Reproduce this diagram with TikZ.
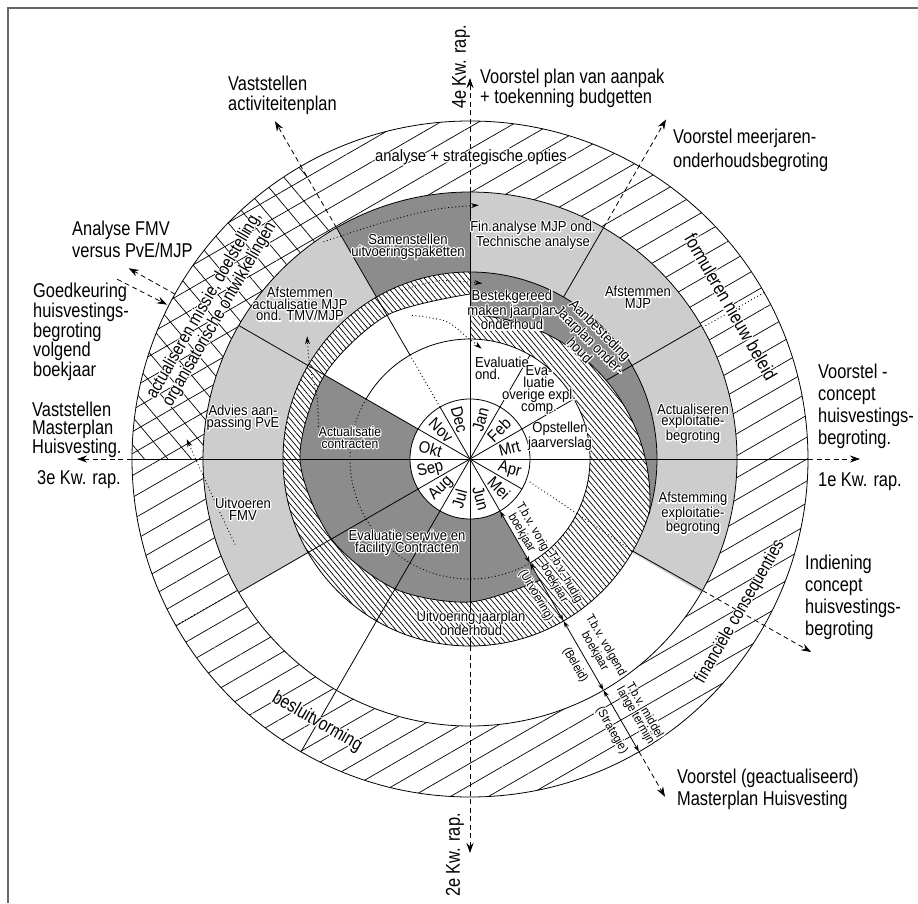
\documentclass[tikz,border=0pt]{standalone}
\usepackage{fontspec}
\setmainfont{Liberation Sans}[FakeStretch=0.82]
\newfontfamily\innerfont{Liberation Sans}[FakeStretch=0.9]
\usetikzlibrary{arrows.meta,patterns.meta}
\definecolor{lg}{HTML}{CDCDCD}
\definecolor{dg}{HTML}{8C8C8C}
\definecolor{framec}{HTML}{666666}
\newcommand\halo[1]{\leavevmode\rlap{\special{pdf:literal direct 1 Tr 2.4 w 1 J 1 j 1 G}#1\special{pdf:literal direct 0 Tr 0 G}}#1}
\newcommand\sctr[5]{\fill[#1] (#2:#4pt) arc[start angle=#2,end angle=#3,radius=#4pt] -- (#3:#5pt) arc[start angle=#3,end angle=#2,radius=#5pt] -- cycle;}
\begin{document}
\begin{tikzpicture}[x=1pt,y=1pt,
 circ/.style={line width=0.8pt},
 dsh/.style={dash pattern=on 5pt off 3.5pt, line width=0.8pt},
 dotl/.style={dash pattern=on 0.9pt off 2.6pt, line width=0.9pt},
 outarrow/.style={dsh, -{Stealth[length=10pt,width=7pt]}},
 dotarrow/.style={dotl, -{Stealth[length=8pt,width=5pt]}},
 dbl/.style={line width=0.8pt, {Stealth[length=7pt,width=4.5pt]}-{Stealth[length=7pt,width=4.5pt]}},
 big/.style={font=\fontsize{20}{#1}\selectfont, align=left, inner sep=0pt, anchor=west},
 lab/.style={font=\innerfont\fontsize{14.5}{11.7}\selectfont, align=center, inner sep=0pt},
 mon/.style={font=\innerfont\fontsize{16.5}{16}\selectfont, inner sep=0pt},
 tbv/.style={font=\innerfont\fontsize{12.3}{10.5}\selectfont, align=center, inner sep=0pt},
 ringlab/.style={font=\fontsize{#1}{16}\selectfont, align=center, inner sep=0pt},
 hatchA/.style={pattern={Lines[angle=30,distance=19pt,line width=0.7pt]}},
 hatchX/.style={pattern={Lines[angle=-50,distance=18pt,line width=0.7pt]}},
 hatchB/.style={pattern={Lines[angle=-50,distance=4.2pt,line width=0.7pt]}}]
\useasboundingbox (-470,-444) rectangle (448,459);
% frame
\coordinate (fr1) at (448,451); \coordinate (fr2) at (-462,451); \coordinate (fr3) at (-462,-444);
\draw[framec, line width=1.3pt] (fr1) -- (fr2) -- (fr3);

% ring A (outer)
\fill[white] (0,0) circle (338pt);
\fill[hatchA, even odd rule] (0,0) circle (338pt) (0,0) circle (267pt);
\fill[hatchX] (120:267pt) arc[start angle=120,end angle=180,radius=267pt] -- (180:338pt) arc[start angle=180,end angle=120,radius=338pt] -- cycle;
% ring B
\fill[white] (0,0) circle (267pt);
\sctr{lg}{-30}{90}{187}{267}
\sctr{dg}{90}{120}{187}{267}
\sctr{lg}{120}{210}{187}{267}
% inner rings
\fill[white] (0,0) circle (187pt);
\sctr{dg}{0}{90}{60}{120}
\sctr{dg}{150}{300}{60}{187}
\fill[hatchB, preaction={fill=white}] (90:187pt) arc[start angle=90,end angle=300,radius=187pt] -- plot[smooth] coordinates {(300:140pt) (270:143pt) (240:150pt) (210:160pt) (180:170pt) (150:168pt) (120:166pt) (90:165pt)} -- cycle;
\begin{scope}
\clip (0,0) -- (-60:400pt) -- (15:400pt) -- (90:400pt) -- cycle;
\clip (-5,-41) circle (185pt);
\fill[hatchB, preaction={fill=white}, even odd rule] (0,0) circle (187pt) (0,0) circle (120pt);
\end{scope}
\begin{scope}
\clip (0,0) -- (-20:400pt) -- (35:400pt) -- (90:400pt) -- cycle;
\clip (0,0) circle (187pt);
\fill[dg, even odd rule] (0,0) circle (187pt) (-5,-41) circle (185pt);
\end{scope}

% circles
\draw[circ] (0,0) circle (338pt);
\draw[circ] (0,0) circle (267pt);
\draw[circ] (0,0) circle (187pt);
\draw[circ] (0,0) circle (60pt);
\draw[circ] (-60:120pt) arc[start angle=-60,end angle=150,radius=120pt];
\draw[dotl] (150:120pt) arc[start angle=150,end angle=300,radius=120pt];
\draw[circ] plot[smooth] coordinates {(300:140pt) (270:143pt) (240:150pt) (210:160pt) (180:170pt) (150:168pt) (120:166pt) (90:165pt)};
\begin{scope}
\clip (0,0) -- (-17:400pt) -- (35:400pt) -- (90:400pt) -- cycle;
\draw[circ] (-5,-41) circle (185pt);
\end{scope}

% axes and radial lines
\draw[circ] (180:338pt) -- (0:338pt);
\draw[circ] (0,0) -- (90:267pt);
\draw[circ] (0,0) -- (270:187pt);
\foreach \a in {30,60,120,150,210,240,300,330} \draw[circ] (0,0) -- (\a:60pt);
\draw[circ] (30:60pt) -- (30:120pt);
\draw[circ] (60:60pt) -- (60:120pt);
\draw[circ] (30:157pt) -- (30:267pt);
\draw[circ] (60:187pt) -- (60:267pt);
\draw[dotl] (120:60pt) -- (120:120pt);
\draw[circ] (120:120pt) -- (120:267pt);
\draw[circ] (150:60pt) -- (150:267pt);
\draw[circ] (210:60pt) -- (210:267pt);
\draw[circ] (240:60pt) -- (240:338pt);
\draw[circ] (-29.5:187pt) -- (-29.5:267pt);
\draw[dotl] (-21:64pt) -- (-29.5:187pt);
\draw[dotl] (29.5:267pt) -- (29.5:338pt);
\draw[dotl] (209.5:267pt) -- (209.5:338pt);

% dotted spiral arrows
\draw[dotarrow] plot[smooth] coordinates {(200:250pt) (190:258pt) (176:284pt)};
\draw[dotarrow] plot[smooth] coordinates {(168:155pt) (158:165pt) (150:185pt) (143:204pt)};
\draw[dotarrow] plot[smooth] coordinates {(124:262pt) (110:252pt) (98:252pt) (88:254pt)};
\draw[dotarrow] plot[smooth] coordinates {(112:182pt) (100:181pt) (86:176pt)};
\draw[dotarrow] plot[smooth] coordinates {(112:155pt) (100:140pt) (92:123pt) (84:111pt)};

% T.b.v. arrows
\coordinate (t0) at (-60:60pt); \coordinate (t1) at (-60:120pt); \coordinate (t2) at (-60:187pt);
\coordinate (t3) at (-60:267pt); \coordinate (t4) at (-60:338pt); \coordinate (t5) at (-60:390pt);
\draw[dbl] (t0) -- (t1);
\draw[dbl] (t1) -- (t2);
\draw[dbl] (t2) -- (t3);
\draw[dbl] (t3) -- (t4);
\draw[outarrow] (t4) -- (t5);

% outer dashed arrows
\coordinate (aN0) at (90:267pt); \coordinate (aN1) at (90:381pt);
\coordinate (aS0) at (270:187pt); \coordinate (aS1) at (270:394pt);
\coordinate (aW0) at (180:338pt); \coordinate (aW1) at (180:393pt);
\coordinate (aE0) at (0:338pt); \coordinate (aE1) at (0:390pt);
\coordinate (a120a) at (120:267pt); \coordinate (a120b) at (120:390pt);
\coordinate (a60a) at (60:267pt); \coordinate (a60b) at (60:392pt);
\coordinate (a151a) at (150.8:338pt); \coordinate (a151b) at (150.8:391pt);
\coordinate (a153a) at (153:396pt); \coordinate (a153b) at (153:340pt);
\coordinate (a330a) at (-29.5:267pt); \coordinate (a330b) at (-29.5:392pt);
\draw[outarrow] (aN0) -- (aN1);
\draw[outarrow] (aS0) -- (aS1);
\draw[outarrow] (aW0) -- (aW1);
\draw[outarrow] (aE0) -- (aE1);
\draw[outarrow] (a120a) -- (a120b);
\draw[outarrow] (a60a) -- (a60b);
\draw[outarrow] (a151a) -- (a151b);
\draw[outarrow] (a153a) -- (a153b);
\draw[outarrow] (a330a) -- (a330b);

% month labels
\node[mon, rotate=75] (mJan) at (75:41pt) {Jan};
\node[mon, rotate=45] (mFeb) at (45:41pt) {Feb};
\node[mon, rotate=15] (mMrt) at (15:41pt) {Mrt};
\node[mon, rotate=-15] (mApr) at (-15:41pt) {Apr};
\node[mon, rotate=-45] (mMei) at (-45:41pt) {Mei};
\node[mon, rotate=-75] (mJun) at (-75:41pt) {Jun};
\node[mon, rotate=75] (mJul) at (-105:41pt) {Jul};
\node[mon, rotate=45] (mAug) at (-135:41pt) {Aug};
\node[mon, rotate=15] (mSep) at (-165:41pt) {Sep};
\node[mon, rotate=-15] (mOkt) at (165:41pt) {Okt};
\node[mon, rotate=-45] (mNov) at (135:41pt) {Nov};
\node[mon, rotate=-75] (mDec) at (105:41pt) {Dec};

% inner labels
\node[lab] (iSam) at (-62,212.5) {\halo{Samenstellen}\\\halo{uitvoeringspaketten}};
\node[lab] (iAfs) at (-170,155) {\halo{Afstemmen}\\\halo{actualisatie MJP}\\\halo{ond. TMV/MJP}};
\node[lab] (iAdv) at (-227,41.5) {\halo{Advies aan-}\\\halo{passing PvE}};
\node[lab, font=\innerfont\fontsize{13.5}{11.7}\selectfont] (iAct) at (-120,21.5) {\halo{Actualisatie}\\\halo{contracten}};
\node[lab] (iUit) at (-227,-50) {\halo{Uitvoeren}\\\halo{FMV}};
\node[lab] (iEvs) at (-63,-83.5) {\halo{Evaluatie servive en}\\\halo{facility Contracten}};
\node[lab] (iUjo) at (1,-164.5) {\halo{Uitvoering jaarplan}\\\halo{onderhoud}};
\node[lab] (iFin) at (63,224) {\halo{Fin.analyse MJP ond.}\\\halo{Technische analyse}};
\node[lab] (iAMJP) at (168,161.5) {\halo{Afstemmen}\\\halo{MJP}};
\node[lab] (iBes) at (42,149) {\halo{Bestekgereed}\\\halo{maken jaarplan}\\\halo{onderhoud}};
\node[lab, rotate=-45] (iAan) at (120,119) {\halo{Aanbesteding}\\\halo{Jaarplan onder-}\\\halo{houd}};
\node[lab, align=left, anchor=west] (iEvo) at (5,91) {\halo{Evaluatie}\\\halo{ond.}};
\node[lab] (iEvx) at (69,69) {\halo{Eva-}\\\halo{luatie}\\\halo{overige expl.}\\\halo{comp.}};
\node[lab] (iOps) at (90,23) {\halo{Opstellen}\\\halo{jaarverslag}};
\node[lab] (iAce) at (223,35.5) {\halo{Actualiseren}\\\halo{exploitatie-}\\\halo{begroting}};
\node[lab] (iAme) at (223,-54.5) {\halo{Afstemming}\\\halo{exploitatie-}\\\halo{begroting}};

% T.b.v. labels
\node[tbv, rotate=-60] (b1) at (57,-71) {\halo{T.b.v. vorig}\\\halo{boekjaar}};
\node[tbv, rotate=-60] (b2) at (89.7,-121.4) {\halo{T.b.v. hudig}\\\halo{boekjaar}};
\node[tbv, rotate=-60] (b3) at (66,-136.3) {\halo{(Uitvoering)}};
\node[tbv, rotate=-60] (b4) at (130.1,-189.3) {\halo{T.b.v. volgend}\\\halo{boekjaar}};
\node[tbv, rotate=-60] (b5) at (105.1,-206) {\halo{(Beleid)}};
\node[tbv, rotate=-60] (b6) at (169.8,-254.1) {\halo{T.b.v. middel}\\\halo{lange termijn}};
\node[tbv, rotate=-60] (b7) at (141.7,-271.5) {\halo{(Strategie)}};

% outer ring labels
\node[ringlab=18, rotate=60] (rA1) at (-258,149) {\halo{actualiseren missie, doelstelling,}\\\halo{organisatorische ontwikkelingen}};
\node[ringlab=19, rotate=-60] (rA2) at (261,152) {\halo{formuleren nieuw beleid}};
\node[ringlab=18, rotate=60] (rA3) at (270,-153) {\halo{financiële consequenties}};
\node[ringlab=19, rotate=-30] (rA4) at (-153,-263) {\halo{besluitvorming}};
\node[lab, font=\innerfont\fontsize{16.5}{16}\selectfont] (rA5) at (1,302) {\halo{analyse + strategische opties}};

% outside labels
\node[big=20] (tVA) at (-242,364) {Vaststellen\\activiteitenplan};
\node[big=20] (tVP) at (10,371) {Voorstel plan van aanpak\\+ toekenning budgetten};
\node[big=24] (tVM) at (203,309) {Voorstel meerjaren-\\onderhoudsbegroting};
\node[big=22] (tAF) at (-398,220) {Analyse FMV\\versus PvE/MJP};
\node[big=18.3] (tGK) at (-437,127) {Goedkeuring\\huisvestings-\\begroting\\volgend\\boekjaar};
\node[big=17.5] (tVMH) at (-438,29) {Vaststellen\\Masterplan\\Huisvesting.};
\node[big=20] (t3e) at (-433,-21) {3e Kw. rap.};
\node[big=22] (tVC) at (348,53) {Voorstel -\\concept\\huisvestings-\\begroting.};
\node[big=20] (t1e) at (348,-23) {1e Kw. rap.};
\node[big=22] (tIC) at (335,-138) {Indiening\\concept\\huisvestings-\\begroting};
\node[big=22] (tVG) at (207,-330) {Voorstel (geactualiseerd)\\Masterplan Huisvesting};
\node[big=20, anchor=center, rotate=90] (t2e) at (-15,-396) {2e Kw. rap.};
\node[big=20, anchor=center, rotate=90] (t4e) at (-9,392) {4e Kw. rap.};
\end{tikzpicture}
\end{document}
